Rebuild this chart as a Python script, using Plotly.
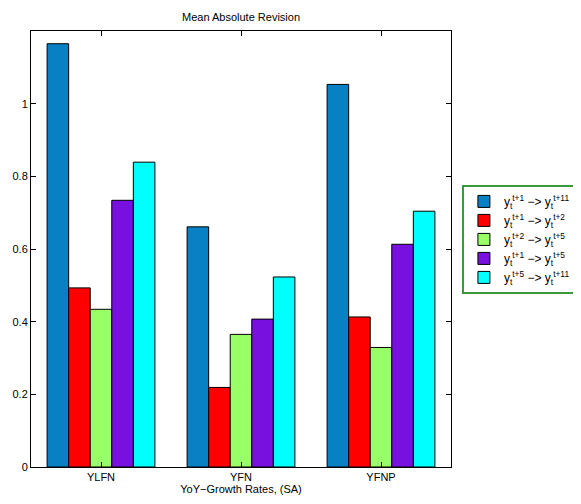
import plotly.graph_objects as go

categories = ["YLFN", "YFN", "YFNP"]
series_names = [
    "y<sub>t</sub><sup>t+1</sup> −> y<sub>t</sub><sup>t+11</sup>",
    "y<sub>t</sub><sup>t+1</sup> −> y<sub>t</sub><sup>t+2</sup>",
    "y<sub>t</sub><sup>t+2</sup> −> y<sub>t</sub><sup>t+5</sup>",
    "y<sub>t</sub><sup>t+1</sup> −> y<sub>t</sub><sup>t+5</sup>",
    "y<sub>t</sub><sup>t+5</sup> −> y<sub>t</sub><sup>t+11</sup>",
]
rev_1_11 = [1.165, 0.661, 1.053]
rev_1_2 = [0.493, 0.219, 0.413]
rev_2_5 = [0.434, 0.365, 0.329]
rev_1_5 = [0.734, 0.407, 0.613]
rev_5_11 = [0.839, 0.523, 0.704]
series_values = [rev_1_11, rev_1_2, rev_2_5, rev_1_5, rev_5_11]
colors = ["#0880C4", "#FF0000", "#99FF66", "#7810E0", "#00FFFF"]
y_ticks = [0, 0.2, 0.4, 0.6, 0.8, 1]
y_tick_labels = ["0", "0.2", "0.4", "0.6", "0.8", "1"]

fig = go.Figure()
for name, vals, col in zip(series_names, series_values, colors):
    fig.add_trace(go.Bar(
        x=categories, y=vals, name=name,
        marker=dict(color=col, line=dict(color="black", width=1)),
    ))

font = dict(family="Liberation Sans, Arial, sans-serif", size=11, color="black")

W, H = 573, 496
fig.update_layout(
    width=W, height=H,
    margin=dict(l=23, r=130, t=23, b=37, autoexpand=False),
    paper_bgcolor="white", plot_bgcolor="white",
    barmode="group", bargap=0.23, bargroupgap=0,
    font=font,
    title=dict(text="Mean Absolute Revision", x=233 / W, xanchor="center",
               y=1 - 9 / H, yanchor="middle", font=dict(size=11)),
    showlegend=True,
    legend=dict(
        x=1.026, xanchor="left", y=0.647, yanchor="top",
        bordercolor="#3A9A3A", borderwidth=2, bgcolor="white",
        font=dict(size=12), tracegroupgap=0, itemwidth=30,
    ),
    xaxis=dict(
        range=[-0.5, 2.5], showline=True, linecolor="black", linewidth=1, mirror="ticks",
        ticks="inside", ticklen=5, tickcolor="black", showgrid=False, automargin=False,
        title=dict(text="YoY−Growth Rates, (SA)", standoff=2, font=dict(size=11)),
        tickfont=dict(size=11),
    ),
    yaxis=dict(
        range=[0, 1.2], showline=True, linecolor="black", linewidth=1, mirror="ticks",
        ticks="inside", ticklen=5, tickcolor="black", showgrid=False, zeroline=False,
        automargin=False,
        tickvals=y_ticks, ticktext=y_tick_labels, tickfont=dict(size=11),
    ),
)

fig.write_html("out.html")
